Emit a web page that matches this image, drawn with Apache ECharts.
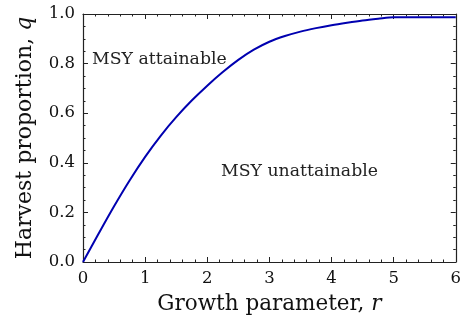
<!DOCTYPE html>
<html>
<head>
<meta charset="utf-8">
<script src="https://cdn.jsdelivr.net/npm/echarts@6/dist/echarts.min.js"></script>
<style>
  html, body { margin: 0; padding: 0; background: #fff; }
  #chart { width: 464px; height: 320px; }
</style>
</head>
<body>
<div id="chart"></div>
<script>
// Growth parameter r and the harvest proportion q at which MSY is reached
const growthR = [0, 0.25, 0.5, 0.75, 1.0, 1.25, 1.5, 1.75, 2.0, 2.25, 2.5, 2.75, 3.0,
                 3.25, 3.5, 3.75, 4.0, 4.25, 4.5, 4.75, 5.0, 5.5, 6.0];
const harvestQ = [0, 0.114, 0.225, 0.329, 0.424, 0.509, 0.584, 0.651, 0.711, 0.766, 0.815, 0.856, 0.888,
                  0.911, 0.929, 0.943, 0.955, 0.965, 0.974, 0.981, 0.987, 0.987, 0.987];
const xTicks = [0, 1, 2, 3, 4, 5, 6];
const yTicks = ['0.0', '0.2', '0.4', '0.6', '0.8', '1.0'];
const regionLabels = ['MSY attainable', 'MSY unattainable'];

const FONT = 'DejaVu Serif';
const chart = echarts.init(document.getElementById('chart'), null, { renderer: 'canvas' });

const tickCommon = { show: true, inside: true, length: 5, lineStyle: { color: '#222', width: 1 } };
const minorCommon = { show: true, length: 2.5, lineStyle: { color: '#222', width: 1 } };
const lineCommon = { show: true, onZero: false, lineStyle: { color: '#222', width: 1.2 } };

const data = growthR.map((r, i) => [r, harvestQ[i]]);

chart.setOption({
  animation: false,
  grid: { left: 83, right: 7, top: 14, bottom: 58, containLabel: false },
  xAxis: [{
    type: 'value', min: 0, max: 6, interval: 1, position: 'bottom',
    axisLine: lineCommon, axisTick: tickCommon,
    minorTick: Object.assign({ splitNumber: 5 }, minorCommon),
    splitLine: { show: false },
    axisLabel: { color: '#111', fontFamily: FONT, fontSize: 16.5, margin: 8,
                 formatter: v => xTicks.includes(v) ? String(v) : '' },
    name: '{a|Growth parameter, }{i|r}', nameLocation: 'middle', nameGap: 31,
    nameTextStyle: { rich: {
      a: { fontFamily: FONT, fontSize: 21.5, color: '#111' },
      i: { fontFamily: FONT, fontSize: 21.5, fontStyle: 'italic', color: '#111' } } }
  }, {
    type: 'value', min: 0, max: 6, interval: 1, position: 'top',
    axisLine: lineCommon, axisTick: tickCommon,
    minorTick: Object.assign({ splitNumber: 5 }, minorCommon),
    splitLine: { show: false }, axisLabel: { show: false }
  }],
  yAxis: [{
    type: 'value', min: 0, max: 1, interval: 0.2, position: 'left',
    axisLine: lineCommon, axisTick: tickCommon,
    minorTick: Object.assign({ splitNumber: 4 }, minorCommon),
    splitLine: { show: false },
    axisLabel: { color: '#111', fontFamily: FONT, fontSize: 16.5, margin: 8,
                 formatter: v => yTicks[Math.round(v * 5)] },
    name: '{a|Harvest proportion, }{i|q}', nameLocation: 'middle', nameGap: 47,
    nameTextStyle: { rich: {
      a: { fontFamily: FONT, fontSize: 22, color: '#111' },
      i: { fontFamily: FONT, fontSize: 22, fontStyle: 'italic', color: '#111' } } }
  }, {
    type: 'value', min: 0, max: 1, interval: 0.2, position: 'right',
    axisLine: lineCommon, axisTick: tickCommon,
    minorTick: Object.assign({ splitNumber: 4 }, minorCommon),
    splitLine: { show: false }, axisLabel: { show: false }
  }],
  graphic: [
    { type: 'text', x: 92, y: 60,
      style: { text: regionLabels[0], font: '17.3px "' + FONT + '"', fill: '#222', verticalAlign: 'middle' } },
    { type: 'text', x: 221, y: 172,
      style: { text: regionLabels[1], font: '17.3px "' + FONT + '"', fill: '#222', verticalAlign: 'middle' } }
  ],
  series: [{
    type: 'line', data: data, smooth: 0.3, showSymbol: false,
    xAxisIndex: 0, yAxisIndex: 0,
    lineStyle: { color: '#0000b0', width: 2 }
  }]
});
</script>
</body>
</html>
